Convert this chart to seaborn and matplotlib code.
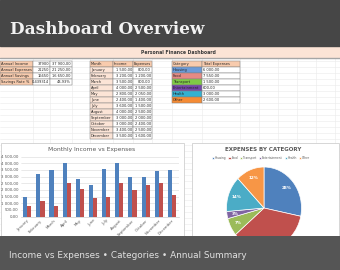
import numpy as np
import pandas as pd
import matplotlib
matplotlib.use("Agg")
import matplotlib.pyplot as plt
import seaborn as sns
from matplotlib.patches import Rectangle

# ---------------- data ----------------
months = ["January", "February", "March", "April", "May", "June", "July",
          "August", "September", "October", "November", "December"]
income = [1500, 3200, 3500, 4000, 2800, 2400, 3600, 4000, 3000, 3000, 3400, 3500]
expenses = [800, 1200, 800, 2500, 2050, 1400, 1500, 2500, 2000, 2400, 2500, 1600]
categories = ["Housing", "Food", "Transport", "Entertainment", "Health", "Other"]
cat_totals = [6000, 7550, 1500, 600, 3000, 2600]
summary_labels = ["Annual Income", "Annual Expenses", "Annual Savings", "Savings Rate %"]
y_ticks = [0, 500, 1000, 1500, 2000, 2500, 3000, 3500, 4000, 4500]

title_text = "Dashboard Overview"
sheet_title = "Personal Finance Dashboard"
chart_title = "Monthly Income vs Expenses"
pie_title = "EXPENSES BY CATEGORY"
footer_text = "Income vs Expenses \u2022 Categories \u2022 Annual Summary"

# ---------------- style ----------------
BLUE, RED = "#4f81bd", "#c0504d"
pie_colors = ["#4f81bd", "#c0504d", "#9bbb59", "#8064a2", "#4bacc6", "#f79646"]
cat_fill = ["#6c9bd8", "#e58a84", "#7fcb45", "#7447a8", "#33b1d1", "#f58b35"]
PEACH_H = "#f8cbad"
PEACH_L = "#fce4d6"
BORDER = "#7f7f7f"
GRIDC = "#ebebeb"

sns.set_theme(style="white")
plt.rcParams["font.family"] = ["DejaVu Sans"]

W, H = 340, 270
fig = plt.figure(figsize=(3.4, 2.7), dpi=100)
fig.patch.set_facecolor("white")


def fx(x):
    return x / W


def fy(y):
    return 1 - y / H


def money(v):
    return f"{v:,.2f}".replace(",", " ").replace(".", ",")


# ---------------- background layer (pixel coordinates) ----------------
bg = fig.add_axes([0, 0, 1, 1])
bg.set_xlim(0, W)
bg.set_ylim(H, 0)
bg.axis("off")

# spreadsheet grid
row_h = 6.05
r0 = 60.5
ys = np.arange(r0, 237, row_h)
for y in ys:
    bg.plot([0, W], [y, y], color=GRIDC, lw=0.4, zorder=1)
col_x = [33, 50, 72, 90, 113, 133, 152, 172, 202, 240, 259, 278, 297, 316, 335]
for x in col_x:
    bg.plot([x, x], [58, 236], color=GRIDC, lw=0.4, zorder=1)

# top banner
bg.add_patch(Rectangle((0, 0), W, 46, color="#464646", zorder=3))
bg.text(10, 33.5, title_text, family="DejaVu Serif",
        weight="bold", fontsize=12.2, color="#f2f2f2", va="baseline",
        ha="left", zorder=4)

# sheet title band
bg.add_patch(Rectangle((0, 47), W, 10, color=PEACH_L, zorder=2))
bg.plot([0, W], [57.6, 57.6], color="#a6a6a6", lw=1.0, zorder=3)
bg.text(178.5, 52.5, sheet_title, fontsize=3.3, weight="bold", color="#3b3b3b",
        ha="center", va="center", zorder=4)

CELL_FS = 2.6


def cell(x0, y0, w, h, txt, fill="white", ha="left", color="#262626"):
    bg.add_patch(Rectangle((x0, y0), w, h, facecolor=fill, edgecolor=BORDER,
                           lw=0.35, zorder=5))
    if ha == "left":
        tx = x0 + 1.0
    else:
        tx = x0 + w - 1.0
    bg.text(tx, y0 + h / 2, txt, fontsize=CELL_FS, color=color, ha=ha,
            va="center", zorder=6)


# table 1: annual summary
tot_inc = sum(income)
tot_exp = sum(expenses)
sav = tot_inc - tot_exp
rate = sav / tot_inc
t1_raw = [str(tot_inc), str(tot_exp), str(sav), f"{rate:.6f}".replace(".", ",")]
t1_fmt = [money(tot_inc), money(tot_exp), money(sav),
          f"{rate * 100:.2f}%".replace(".", ",")]
for i, lab in enumerate(summary_labels):
    y0 = r0 + i * row_h
    cell(0, y0, 33, row_h, lab, fill=PEACH_H)
    cell(33, y0, 17, row_h, t1_raw[i], ha="right")
    cell(50, y0, 22, row_h, t1_fmt[i], ha="right")

# table 2: monthly values
cell(90, r0, 23, row_h, "Month", fill=PEACH_H)
cell(113, r0, 20, row_h, "Income", fill=PEACH_H)
cell(133, r0, 19, row_h, "Expenses", fill=PEACH_H)
for i, m in enumerate(months):
    y0 = r0 + (i + 1) * row_h
    cell(90, y0, 23, row_h, m, fill=PEACH_L)
    cell(113, y0, 20, row_h, money(income[i]), ha="right")
    cell(133, y0, 19, row_h, money(expenses[i]), ha="right")

# table 3: categories
cell(172, r0, 30, row_h, "Category", fill=PEACH_H)
cell(202, r0, 38, row_h, "Total Expenses", fill=PEACH_H)
for i, c in enumerate(categories):
    y0 = r0 + (i + 1) * row_h
    cell(172, y0, 30, row_h, c, fill=cat_fill[i])
    cell(202, y0, 38, row_h, money(cat_totals[i]))

# chart panels
bg.add_patch(Rectangle((0.5, 142.5), 183, 94, facecolor="white",
                       edgecolor="#d0d0d0", lw=0.6, zorder=7))
bg.add_patch(Rectangle((191.5, 142.5), 147.5, 94, facecolor="white",
                       edgecolor="#d0d0d0", lw=0.6, zorder=7))
bg.text(92, 149.5, chart_title, fontsize=4.3, color="#595959",
        ha="center", va="center", zorder=8)
bg.text(263, 149.3, pie_title, fontsize=4.0, weight="bold", color="#595959",
        ha="center", va="center", zorder=8)

# ---------------- bar chart ----------------
df = pd.DataFrame({
    "Month": months * 2,
    "Value": income + expenses,
    "Series": ["Income"] * len(months) + ["Expenses"] * len(months),
})
ax = fig.add_axes([fx(20.7), fy(216.5), fx(157.8), 60 / H])
ax.set_zorder(2)
ax.patch.set_alpha(0)
sns.barplot(data=df, x="Month", y="Value", hue="Series", order=months,
            hue_order=["Income", "Expenses"], palette=[BLUE, RED],
            width=0.62, saturation=1, legend=False, ax=ax, linewidth=0)
ax.set_xlim(-0.5, len(months) - 0.5)
ax.set_ylim(0, y_ticks[-1])
ax.set_yticks(y_ticks)
ax.set_yticklabels([money(v) for v in y_ticks])
ax.set_xticks(range(len(months)))
ax.set_xticklabels(months, rotation=45, ha="right", rotation_mode="anchor")
ax.tick_params(axis="both", labelsize=2.8, labelcolor="#595959", length=0, pad=1.5)
ax.set_xlabel("")
ax.set_ylabel("")
ax.yaxis.grid(True, color="#d9d9d9", lw=0.4)
ax.set_axisbelow(True)
for s in ["top", "right", "left"]:
    ax.spines[s].set_visible(False)
ax.spines["bottom"].set_color("#bfbfbf")
ax.spines["bottom"].set_linewidth(0.4)

# ---------------- pie chart ----------------
cx, cy, rx, ry = 264, 208, 37.5, 41
axp = fig.add_axes([fx(cx - rx), fy(cy + ry), 2 * rx / W, 2 * ry / H])
axp.set_zorder(2)
wedges, _, autotexts = axp.pie(
    cat_totals, colors=pie_colors, startangle=90, counterclock=False,
    autopct="%1.0f%%", pctdistance=0.78,
    textprops=dict(color="white", fontsize=3.0, weight="bold"),
    wedgeprops=dict(edgecolor="white", linewidth=0.5))
axp.set_aspect("auto")
axp.set_xlim(-1, 1)
axp.set_ylim(-1, 1)

fig.legend(wedges, categories, loc="center", bbox_to_anchor=(fx(261), fy(158)),
           ncol=6, fontsize=2.1, frameon=False, handlelength=0.7,
           handleheight=0.7, handletextpad=0.3, columnspacing=0.8,
           labelcolor="#595959")

# ---------------- footer ----------------
ft = fig.add_axes([0, 0, 1, (H - 236) / H])
ft.set_zorder(10)
ft.set_xlim(0, W)
ft.set_ylim(H, 236)
ft.axis("off")
ft.add_patch(Rectangle((0, 236), W, 34, color="#555555"))
ft.text(9, 258.3, footer_text, fontsize=6.4, color="#e0e0e0",
        ha="left", va="baseline")

fig.savefig("out.png", dpi=100)
